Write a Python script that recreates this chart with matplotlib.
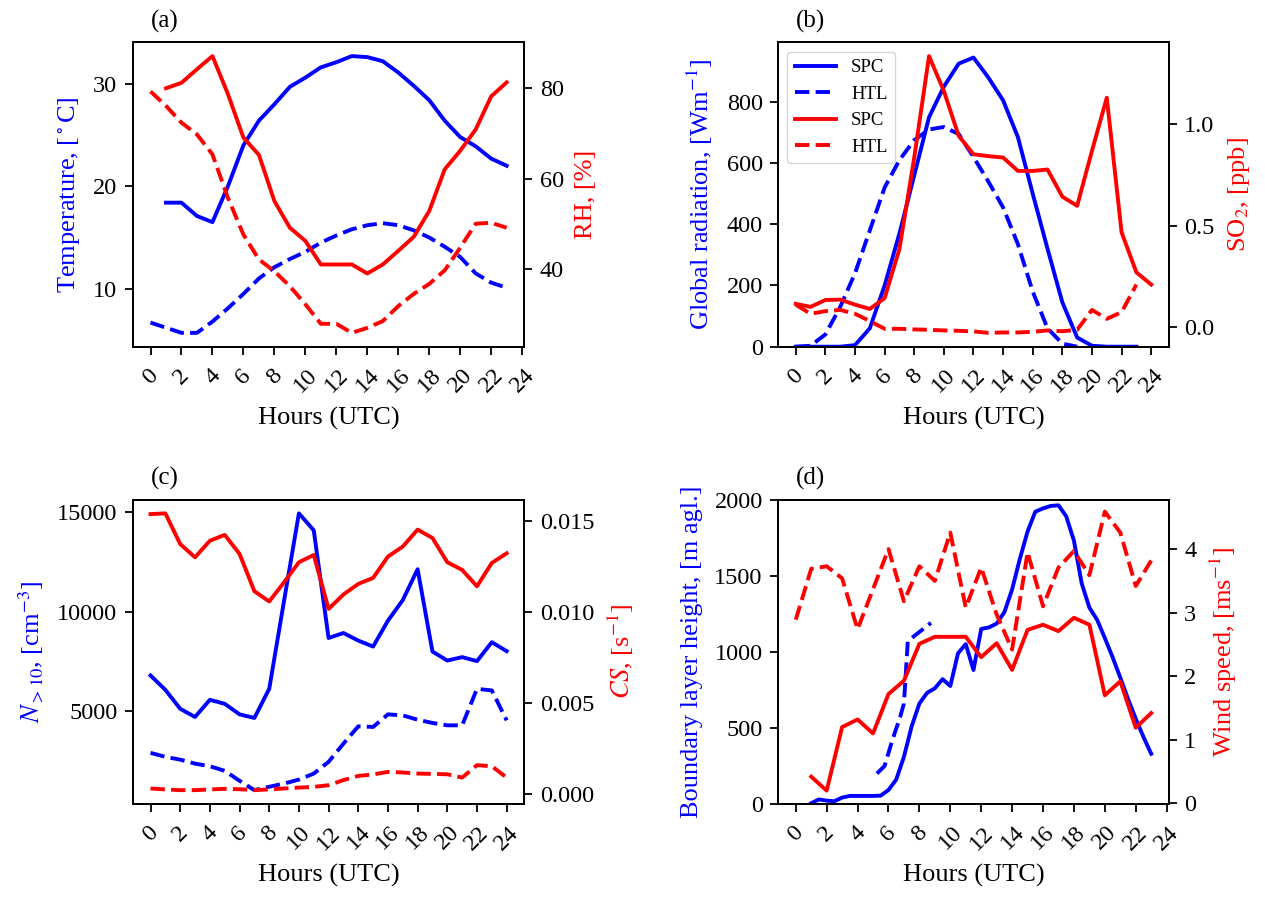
import numpy as np
import matplotlib
matplotlib.use("Agg")
import matplotlib.pyplot as plt
from matplotlib.ticker import FormatStrFormatter
from matplotlib.transforms import blended_transform_factory

plt.rcParams["font.family"] = "serif"
plt.rcParams["font.serif"] = ["Liberation Serif", "DejaVu Serif"]
plt.rcParams["mathtext.fontset"] = "stix"
plt.rcParams["axes.linewidth"] = 1.3

# ── (a) temperature / RH ─────────────────────────────────────────────────────
hours_a_spc = np.arange(1, 24)
hours_a_htl = np.arange(0, 24)
temp_spc = [18.4, 18.4, 17.1, 16.5, 20.0, 24.0, 26.4, 28.0, 29.7, 30.6, 31.6, 32.1,
            32.7, 32.6, 32.2, 31.1, 29.8, 28.4, 26.4, 24.8, 23.9, 22.7, 22.0]
temp_htl = [6.7, 6.2, 5.7, 5.7, 6.8, 8.1, 9.5, 11.0, 12.1, 12.9, 13.6, 14.5,
            15.2, 15.8, 16.2, 16.4, 16.2, 15.7, 15.0, 14.1, 13.1, 11.5, 10.6, 10.1]
rh_spc = [80.0, 81.2, 84.2, 87.1, 78.7, 69.1, 65.3, 55.1, 49.2, 46.3, 41.1, 41.1,
          41.1, 39.1, 41.1, 44.1, 47.2, 52.9, 62.1, 66.2, 70.9, 78.2, 81.3]
rh_htl = [79.3, 76.1, 72.4, 69.8, 65.4, 55.8, 47.7, 42.2, 39.6, 36.3, 32.3, 28.0,
          28.0, 26.0, 27.1, 28.6, 31.9, 34.6, 36.8, 39.8, 44.8, 50.1, 50.3, 49.2]

# ── (b) global radiation / SO2 ───────────────────────────────────────────────
hours_rad_spc = np.arange(0, 24)
hours_rad_htl = np.arange(0, 20)
hours_so2_spc = np.arange(0, 25)
hours_so2_htl = np.arange(0, 24)
rad_spc = [0, 0, 0, 0, 5, 60, 200, 370, 560, 750, 850, 925,
           945, 880, 805, 685, 500, 320, 145, 30, 3, 0, 0, 0]
rad_htl = [0, 3, 40, 130, 240, 380, 520, 610, 675, 710, 718, 695,
           620, 540, 455, 335, 180, 60, 10, 0]
so2_spc = [0.115, 0.100, 0.134, 0.136, 0.111, 0.090, 0.143, 0.385, 0.836, 1.336,
           1.164, 0.943, 0.852, 0.843, 0.836, 0.770, 0.770, 0.777, 0.643, 0.598,
           0.869, 1.131, 0.467, 0.270, 0.210]
so2_htl = [0.111, 0.066, 0.079, 0.085, 0.066, 0.030, -0.008, -0.008, -0.011, -0.013,
           -0.016, -0.018, -0.021, -0.028, -0.026, -0.026, -0.023, -0.016, -0.020,
           -0.013, 0.085, 0.041, 0.074, 0.210]

# ── (c) N>10 / condensation sink ─────────────────────────────────────────────
hours_c = np.arange(0, 25)
n_spc = [6800, 6080, 5130, 4720, 5580, 5380, 4850, 4670, 6130, 10550, 14930, 14080,
         8680, 8930, 8550, 8250, 9550, 10580, 12130, 8000, 7550, 7720, 7520, 8470, 8020]
n_htl = [2920, 2720, 2580, 2380, 2250, 2020, 1520, 1050, 1220, 1380, 1580, 1880,
         2470, 3380, 4250, 4220, 4850, 4800, 4580, 4420, 4300, 4300, 6130, 6050, 4550]
cs_spc = [0.01536, 0.01540, 0.01372, 0.01299, 0.01390, 0.01422, 0.01318, 0.01113,
          0.01057, 0.01162, 0.01272, 0.01312, 0.01016, 0.01095, 0.01153, 0.01186,
          0.01303, 0.01358, 0.01451, 0.01405, 0.01272, 0.01230, 0.01140, 0.01268, 0.01321]
cs_htl = [0.00031, 0.00026, 0.00022, 0.00022, 0.00026, 0.00029, 0.00027, 0.00022,
          0.00026, 0.00031, 0.00036, 0.00040, 0.00049, 0.00077, 0.00100, 0.00108,
          0.00122, 0.00119, 0.00113, 0.00111, 0.00109, 0.00091, 0.00159, 0.00153, 0.00091]

# ── (d) boundary layer height / wind speed ───────────────────────────────────
hours_blh_spc = np.arange(1, 23.01, 0.5)
blh_spc = [5, 30, 22, 18, 42, 53, 53, 53, 53, 55, 92, 160, 310, 510, 660, 730,
           760, 820, 775, 990, 1050, 880, 1150, 1160, 1185, 1260, 1410, 1610, 1790,
           1920, 1942, 1958, 1962, 1890, 1730, 1450, 1290, 1210, 1090, 965, 830,
           690, 560, 440, 330]
hours_blh_htl = [5.25, 5.75, 6.25, 6.75, 7.0, 7.25, 7.75, 8.25, 8.75]
blh_htl = [200, 250, 420, 570, 660, 1070, 1110, 1150, 1190]
hours_ws_spc = np.arange(1, 24)
hours_ws_htl = np.arange(0, 24)
ws_spc = [0.42, 0.20, 1.20, 1.32, 1.10, 1.72, 1.93, 2.51, 2.62, 2.62, 2.62, 2.30,
          2.52, 2.10, 2.73, 2.81, 2.71, 2.92, 2.81, 1.70, 1.92, 1.19, 1.42]
ws_htl = [2.89, 3.69, 3.73, 3.54, 2.74, 3.37, 4.00, 3.18, 3.73, 3.50, 4.26, 3.08,
          3.71, 2.97, 2.42, 3.95, 3.10, 3.71, 3.97, 3.59, 4.59, 4.26, 3.42, 3.82]

LW = 2.8
TICK_FS = 17.5
LABEL_FS = 19


# ─────────────────────────────────────────────────────────────────────────────
def style_axes(ax, ax2, letter, left_label, right_label):
    ax.set_xticks(np.arange(0, 25, 2))
    for a in (ax, ax2):
        a.tick_params(length=6, width=1.3, labelsize=TICK_FS, pad=5)
    ax.tick_params(axis="x", labelrotation=45, pad=7)
    ax.set_xlabel("Hours (UTC)", fontsize=LABEL_FS, labelpad=7)
    ax.set_ylabel(left_label, color="b", fontsize=LABEL_FS, labelpad=8)
    ax2.set_ylabel(right_label, color="r", fontsize=LABEL_FS, labelpad=8)
    trans = blended_transform_factory(ax.transData, ax.transAxes)
    ax.text(0, 1.03, letter, transform=trans, fontsize=18, ha="left", va="bottom")


fig = plt.figure(figsize=(12.65, 8.97), dpi=100)
ax_a = fig.add_axes([0.1049, 0.6135, 0.3097, 0.3394])
ax_b = fig.add_axes([0.6150, 0.6135, 0.3091, 0.3394])
ax_c = fig.add_axes([0.1049, 0.1037, 0.3097, 0.3394])
ax_d = fig.add_axes([0.6150, 0.1037, 0.3091, 0.3394])

# (a)
ax_a.plot(hours_a_spc, temp_spc, "b-", lw=LW)
ax_a.plot(hours_a_htl, temp_htl, "b--", lw=LW)
ax_a2 = ax_a.twinx()
ax_a2.plot(hours_a_spc, rh_spc, "r-", lw=LW)
ax_a2.plot(hours_a_htl, rh_htl, "r--", lw=LW)
ax_a.set_yticks([10, 20, 30])
ax_a2.set_yticks([40, 60, 80])
style_axes(ax_a, ax_a2, "(a)", r"Temperature, [$^\circ$C]", "RH, [%]")

# (b)
l1, = ax_b.plot(hours_rad_spc, rad_spc, "b-", lw=LW, label="SPC")
l2, = ax_b.plot(hours_rad_htl, rad_htl, "b--", lw=LW, label="HTL")
ax_b2 = ax_b.twinx()
l3, = ax_b2.plot(hours_so2_spc, so2_spc, "r-", lw=LW, label="SPC")
l4, = ax_b2.plot(hours_so2_htl, so2_htl, "r--", lw=LW, label="HTL")
ax_b.set_ylim(0, 995)
ax_b2.set_yticks([0.0, 0.5, 1.0])
style_axes(ax_b, ax_b2, "(b)", r"Global radiation, [Wm$^{-1}$]", r"SO$_2$, [ppb]")
ax_b2.legend(handles=[l1, l2, l3, l4], loc="upper left", fontsize=13.5,
             handlelength=2.2)

# (c)
ax_c.plot(hours_c, n_spc, "b-", lw=LW)
ax_c.plot(hours_c, n_htl, "b--", lw=LW)
ax_c2 = ax_c.twinx()
ax_c2.plot(hours_c, cs_spc, "r-", lw=LW)
ax_c2.plot(hours_c, cs_htl, "r--", lw=LW)
ax_c.set_yticks([5000, 10000, 15000])
ax_c2.set_yticks([0.0, 0.005, 0.010, 0.015])
ax_c2.yaxis.set_major_formatter(FormatStrFormatter("%.3f"))
style_axes(ax_c, ax_c2, "(c)", r"$N_{>10}$, [cm$^{-3}$]", r"$CS$, [s$^{-1}$]")

# (d)
ax_d.plot(hours_blh_spc, blh_spc, "b-", lw=LW)
ax_d.plot(hours_blh_htl, blh_htl, "b--", lw=LW)
ax_d2 = ax_d.twinx()
ax_d2.plot(hours_ws_spc, ws_spc, "r-", lw=LW)
ax_d2.plot(hours_ws_htl, ws_htl, "r--", lw=LW)
ax_d.set_xlim(-1.15, 24.15)
ax_d.set_ylim(0, 2000)
ax_d2.set_ylim(-0.01, 4.78)
style_axes(ax_d, ax_d2, "(d)", "Boundary layer height, [m agl.]", r"Wind speed, [ms$^{-1}$]")

fig.savefig("out.png", dpi=100)
